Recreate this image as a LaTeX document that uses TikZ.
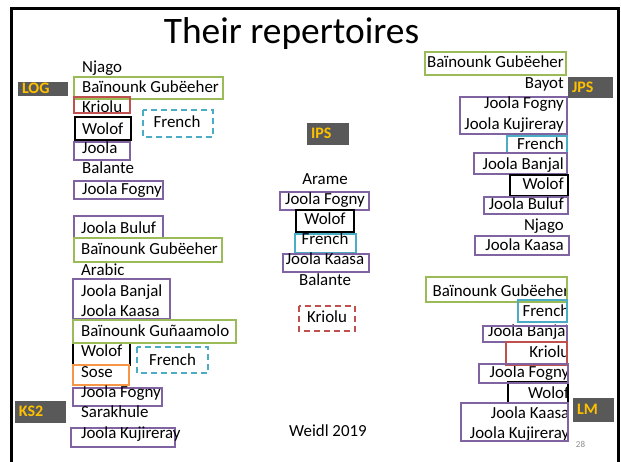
\documentclass[tikz,border=0pt]{standalone}
\usepackage{fontspec}
\setmainfont{Carlito}
\newcommand\txtsz{\fontsize{16.9}{19}\selectfont}
\newcommand\tagsz{\fontsize{16}{18}\selectfont\bfseries}
\definecolor{cgreen}{HTML}{9BBB59}
\definecolor{cred}{HTML}{C0504D}
\definecolor{cpurple}{HTML}{8064A2}
\definecolor{ccyan}{HTML}{4BACC6}
\definecolor{corange}{HTML}{F79646}
\definecolor{tagbg}{HTML}{595959}
\definecolor{tagfg}{HTML}{FFC000}
\begin{document}
\begin{tikzpicture}[x=1pt,y=-1pt,
  lt/.style={anchor=base west, inner sep=0pt, font=\txtsz},
  rt/.style={anchor=base east, inner sep=0pt, font=\txtsz},
  ct/.style={anchor=base, inner sep=0pt, font=\txtsz},
  gbox/.style={draw=cgreen, line width=2pt},
  rbox/.style={draw=cred, line width=2pt},
  pbox/.style={draw=cpurple, line width=2pt},
  cbox/.style={draw=ccyan, line width=2pt},
  obox/.style={draw=corange, line width=2pt},
  kbox/.style={draw=black, line width=2.4pt},
  cdash/.style={draw=ccyan, line width=2pt, dash pattern=on 6pt off 4pt},
  rdash/.style={draw=cred, line width=2pt, dash pattern=on 6pt off 4pt},
  tag/.style={fill=tagbg, text=tagfg, font=\tagsz, inner xsep=4pt, inner ysep=0pt,
    text height=10.5pt, text depth=1pt, align=left},
  frameline/.style={line width=2.5pt, draw=black}
]
\useasboundingbox (0,0) rectangle (621,462);
\fill[white] (0,0) rectangle (621,462);
% frame
\draw[frameline] (11.5,462) -- (11.5,8.5) -- (618.5,8.5) -- (618.5,462);
% title
\node[anchor=base, inner sep=0pt, font=\fontsize{37.4}{42}\selectfont] (title) at (291.5,43.3) {Their repertoires};

% ---------- left column, LOG ----------
\draw[gbox] (74,77) rectangle (223,99);
\draw[rbox] (74,97) rectangle (130,113);
\draw[kbox] (75,117) rectangle (131,140);
\draw[pbox] (74,142) rectangle (130,160);
\draw[pbox] (74,181) rectangle (163,199);
\draw[cdash] (143,110) rectangle (213,137);
\node[lt] (l1) at (82,73) {Njago};
\node[lt] (l2) at (82,93) {Baïnounk Gubëeher};
\node[lt] (l3) at (82,112.5) {Kriolu};
\node[lt] (l4) at (82,135) {Wolof};
\node[lt] (l5) at (82,154) {Joola};
\node[lt] (l6) at (82,174) {Balante};
\node[lt] (l7) at (82,195) {Joola Fogny};
\node[ct] (l8) at (177,128) {French};
\node[tag, text width=42pt, minimum height=14pt] (log) at (43,89) {LOG};

% ---------- left column, middle ----------
\draw[pbox] (74,216) rectangle (163,238);
\draw[gbox] (74,238) rectangle (222,262);
\draw[pbox] (73,279) rectangle (170,319);
\draw[kbox] (73,343) rectangle (130,365);
\draw[gbox] (73,320) rectangle (236,343);
\node[lt] (m1) at (81,234) {Joola Buluf};
\node[lt] (m2) at (81,255) {Baïnounk Gubëeher};
\node[lt] (m3) at (81,275.7) {Arabic};
\node[lt] (m4) at (81,296.7) {Joola Banjal};
\node[lt] (m5) at (81,316.7) {Joola Kaasa};
\node[lt] (m6) at (81,336.7) {Baïnounk Guñaamolo};

% ---------- left column, bottom (KS2) ----------
\draw[obox] (73,365) rectangle (129,385);
\draw[cdash] (137,347) rectangle (208,373);
\draw[pbox] (73,388) rectangle (162,406);
\draw[pbox] (71,428) rectangle (175,447);
\node[lt] (k1) at (81,356.7) {Wolof};
\node[lt] (k2) at (81,377.7) {Sose};
\node[lt] (k3) at (81,397.7) {Joola Fogny};
\node[lt] (k4) at (81,417.3) {Sarakhule};
\node[lt] (k5) at (81,438.3) {Joola Kujireray};
\node[ct] (k6) at (172.5,365) {French};
\node[tag, text width=43pt, minimum height=22pt] (ks2) at (40.5,412) {KS2};

% ---------- middle column (IPS) ----------
\draw[pbox] (280,192) rectangle (369,210);
\draw[kbox] (296,210) rectangle (354,232);
\draw[cbox] (295,234) rectangle (356,253);
\draw[pbox] (283,254) rectangle (369,272);
\draw[rdash] (299,306) rectangle (355,331);
\node[ct] (i1) at (325,185) {Arame};
\node[ct] (i2) at (325,205) {Joola Fogny};
\node[ct] (i3) at (325,225) {Wolof};
\node[ct] (i4) at (325,245) {French};
\node[ct] (i5) at (325,265) {Joola Kaasa};
\node[ct] (i6) at (325,286) {Balante};
\node[ct] (i7) at (327,323) {Kriolu};
\node[ct] (weidl) at (328,436) {Weidl 2019};
\node[tag, text width=34pt, minimum height=22pt] (ips) at (328,134) {IPS};

% ---------- right column, top (JPS) ----------
\draw[gbox] (425,52) rectangle (566,75);
\draw[pbox] (460,97) rectangle (567,134);
\draw[cbox] (507,136) rectangle (567,153);
\draw[pbox] (474,153) rectangle (567,174);
\draw[kbox] (510,175) rectangle (568,196);
\draw[pbox] (484,197) rectangle (568,214);
\draw[pbox] (475,236) rectangle (569,255);
\node[rt] (j1) at (564,67.3) {Baïnounk Gubëeher};
\node[rt] (j2) at (564,88.3) {Bayot};
\node[rt] (j3) at (564,108.3) {Joola Fogny};
\node[rt] (j4) at (564,129.3) {Joola Kujireray};
\node[rt] (j5) at (564,149.3) {French};
\node[rt] (j6) at (564,170) {Joola Banjal};
\node[rt] (j7) at (564,190) {Wolof};
\node[rt] (j8) at (564,210) {Joola Buluf};
\node[rt] (j9) at (564,230.7) {Njago};
\node[rt] (j10) at (564,250.7) {Joola Kaasa};
\node[tag, text width=37pt, minimum height=21pt] (jps) at (590.5,87.5) {JPS};

% ---------- right column, bottom (LM) ----------
\begin{scope}
\clip (400,270) rectangle (566.5,450);
\node[rt] (n1) at (569.5,296.7) {Baïnounk Gubëeher};
\node[rt] (n2) at (569.5,316.7) {French};
\node[rt] (n3) at (569.5,336.7) {Joola Banjal};
\node[rt] (n4) at (569.5,357.3) {Kriolu};
\node[rt] (n5) at (569.5,377.3) {Joola Fogny};
\node[rt] (n6) at (569.5,398.3) {Wolof};
\node[rt] (n7) at (569.5,418.3) {Joola Kaasa};
\node[rt] (n8) at (569.5,438.3) {Joola Kujireray};
\end{scope}
\draw[gbox] (426,277) rectangle (567,302);
\draw[cbox] (518,300) rectangle (567,322);
\draw[pbox] (483,326) rectangle (567,342);
\draw[rbox] (506,342) rectangle (567,365);
\draw[kbox] (508,382) rectangle (568,403);
\draw[pbox] (479,364) rectangle (568,383);
\draw[pbox] (461,403) rectangle (568,441);
\node[tag, text width=33pt, minimum height=24pt] (lm) at (593.5,410) {LM};
\node[anchor=base, inner sep=0pt, text=black!45, font=\fontsize{9}{10}\selectfont] (pg) at (580.5,447.5) {28};
\end{tikzpicture}
\end{document}
